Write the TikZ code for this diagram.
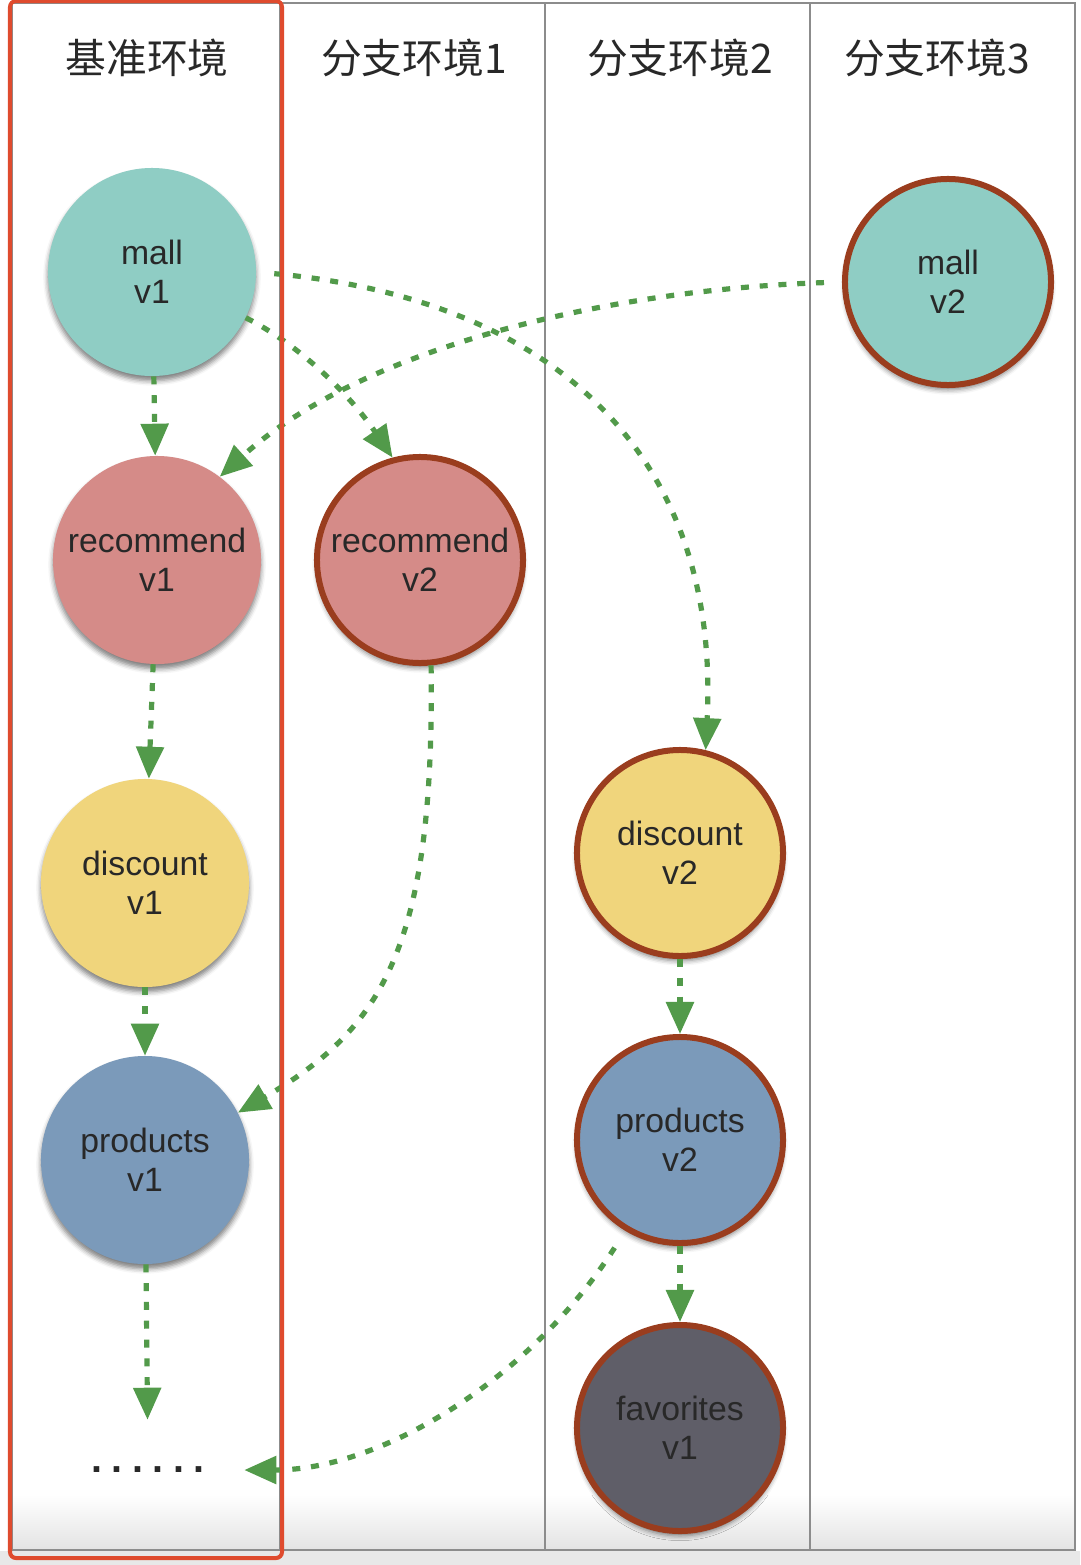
\documentclass[tikz,border=0pt]{standalone}
\usepackage{fontspec}
\setmainfont{Liberation Sans}
\newfontfamily\cjk{Noto Sans CJK SC}
\usetikzlibrary{arrows.meta,shadows.blur}
\definecolor{mallc}{RGB}{143,205,196}
\definecolor{recc}{RGB}{213,139,136}
\definecolor{disc}{RGB}{240,213,124}
\definecolor{prodc}{RGB}{123,154,186}
\definecolor{favc}{RGB}{95,94,104}
\definecolor{rust}{RGB}{154,61,30}
\definecolor{callgreen}{RGB}{82,154,74}
\definecolor{boxred}{RGB}{223,75,46}
\definecolor{framegray}{RGB}{140,140,140}
\definecolor{textgray}{RGB}{40,40,40}

\begin{document}
\begin{tikzpicture}
[x=0.025cm,y=-0.025cm,
every node/.style={text=textgray,align=center,font=\fontsize{24}{28}\selectfont},
svc/.style={circle,minimum size=5.2cm,inner sep=0pt,
	blur shadow={shadow xshift=0pt,shadow yshift=-0.12cm,shadow blur radius=0.12cm,shadow opacity=50}},
branch/.style={svc,draw=rust,line width=0.15cm,minimum size=5.15cm},
hdr/.style={font=\cjk\fontsize{29}{32}\selectfont},
call/.style={draw=callgreen,line width=0.13cm,dash pattern=on 0.2cm off 0.27cm,
	-{Triangle[length=0.8cm,width=0.68cm]}}]

\useasboundingbox (0,0) rectangle (1080,1565);
\fill[gray!18] (0,1551) rectangle (1080,1565);
\shade[top color=white,bottom color=gray!22] (12,1495) rectangle (1075,1550);
\draw[framegray,line width=0.05cm] (12,3) rectangle (1075,1550);
\foreach \x in {280,545,810}
	\draw[framegray,line width=0.05cm] (\x,3) -- (\x,1550);

\node[hdr] (envA) at (147,58) {基准环境};
\node[hdr] (envB) at (414,58) {分支环境1};
\node[hdr] (envC) at (680,58) {分支环境2};
\node[hdr] (envD) at (937,58) {分支环境3};

\node[svc,fill=mallc] (mallA) at (152,272) {mall\\v1};
\node[svc,fill=recc] (recA) at (157,560) {recommend\\v1};
\node[svc,fill=disc] (discA) at (145,883) {discount\\v1};
\node[svc,fill=prodc] (prodA) at (145,1160) {products\\v1};
\node[minimum width=5cm,minimum height=2.5cm,font=\bfseries\fontsize{28}{30}\selectfont\addfontfeature{LetterSpace=24}] (more) at (148,1470) {......};

\node[branch,fill=recc] (recB) at (420,560) {recommend\\v2};
\node[branch,fill=disc] (discB) at (680,853) {discount\\v2};
\node[branch,fill=prodc] (prodB) at (680,1140) {products\\v2};
\node[branch,fill=favc] (favB) at (680,1428) {favorites\\v1};
\node[branch,fill=mallc] (mallB) at (948,282) {mall\\v2};

\draw[call] (mallA) -- (recA);
\draw[call] (recA) -- (discA);
\draw[call] (discA) -- (prodA);
\draw[call] (prodA) -- (more);
\draw[call] (discB) -- (prodB);
\draw[call] (prodB) -- (favB);

\draw[call] (mallA.-26) .. controls (300,345) and (350,395) .. (recB.105);
\draw[call,shorten <=0.45cm] (mallA.east) .. controls (560,300) and (720,460) .. (discB.76);
\draw[call,shorten <=0.45cm] (mallB.west) .. controls (600,290) and (360,350) .. (recA.53);
\draw[call] (recB.-84) .. controls (435,950) and (380,1030) .. (prodA.27);
\draw[call,shorten <=0.5cm] (prodB.-121) .. controls (530,1380) and (380,1470) .. ([xshift=-0.1cm]more.east);

\draw[boxred,line width=0.1cm,rounded corners=0.15cm] (10,1) rectangle (282,1558);
\end{tikzpicture}
\end{document}
